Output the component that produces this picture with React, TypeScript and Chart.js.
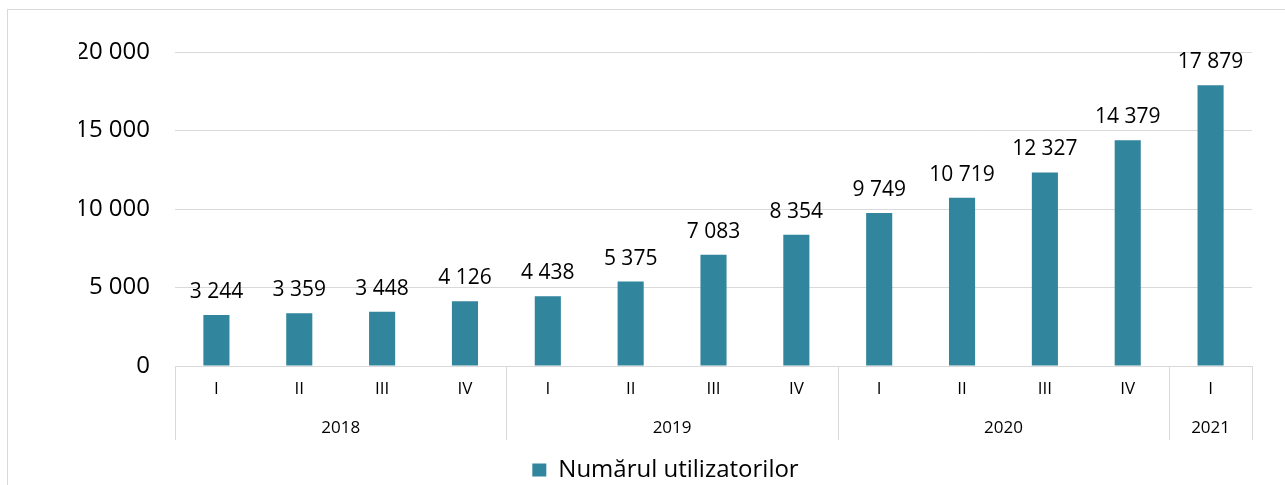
import React, { useEffect, useRef } from "react";
import { Chart, registerables } from "chart.js";

Chart.register(...registerables);

const quarters = ["I", "II", "III", "IV", "I", "II", "III", "IV", "I", "II", "III", "IV", "I"];
const years = ["2018", "2019", "2020", "2021"];
const yearSpans = [4, 4, 4, 1];
const users = [3244, 3359, 3448, 4126, 4438, 5375, 7083, 8354, 9749, 10719, 12327, 14379, 17879];
const yTicks = [0, 5000, 10000, 15000, 20000];

const seriesName = "Numărul utilizatorilor";
const barColor = "#31859C";
const gridColor = "#d9d9d9";
const FONT = "'Open Sans', 'Noto Sans', sans-serif";

const fmt = (v: number) => String(v).replace(/\B(?=(\d{3})+(?!\d))/g, " ");

const decorPlugin = {
  id: "decor",
  beforeDraw(chart: any) {
    const ctx = chart.ctx;
    ctx.save();
    ctx.strokeStyle = gridColor;
    ctx.lineWidth = 1;
    ctx.strokeRect(7.5, 9.5, 1300, 500);
    ctx.restore();
  },
  afterDatasetsDraw(chart: any) {
    const ctx = chart.ctx;
    const meta = chart.getDatasetMeta(0);
    const x = chart.scales.x;
    const area = chart.chartArea;
    ctx.save();
    // data labels
    ctx.fillStyle = "#000";
    ctx.font = `21px ${FONT}`;
    ctx.textAlign = "center";
    ctx.textBaseline = "alphabetic";
    meta.data.forEach((bar: any, i: number) => {
      ctx.fillText(fmt(users[i]), bar.x, bar.y - 17);
    });
    // group separators and year labels
    const half = (x.getPixelForValue(1) - x.getPixelForValue(0)) / 2;
    ctx.strokeStyle = gridColor;
    ctx.lineWidth = 1;
    ctx.font = `17px ${FONT}`;
    ctx.textBaseline = "middle";
    let start = 0;
    const bottom = area.bottom + 74;
    const drawSep = (px: number) => {
      const xx = Math.round(px) + 0.5;
      ctx.beginPath();
      ctx.moveTo(xx, area.bottom);
      ctx.lineTo(xx, bottom);
      ctx.stroke();
    };
    drawSep(x.getPixelForValue(0) - half);
    years.forEach((yr, gi) => {
      const end = start + yearSpans[gi] - 1;
      const left = x.getPixelForValue(start) - half;
      const right = x.getPixelForValue(end) + half;
      drawSep(right);
      ctx.fillText(yr, (left + right) / 2, area.bottom + 62);
      start = end + 1;
    });
    ctx.restore();
  },
};

export default function App() {
  const ref = useRef<HTMLCanvasElement>(null);
  useEffect(() => {
    if (!ref.current) return;
    const chart = new Chart(ref.current, {
      type: "bar",
      data: {
        labels: quarters,
        datasets: [
          {
            label: seriesName,
            data: users,
            backgroundColor: barColor,
            barPercentage: 0.315,
            categoryPercentage: 1,
          },
        ],
      },
      options: {
        animation: false,
        responsive: false,
        layout: { padding: { top: 52, right: 33, left: 79, bottom: -7 } },
        plugins: {
          legend: {
            position: "bottom",
            labels: {
              boxWidth: 14,
              boxHeight: 13,
              padding: 10,
              color: "#000",
              font: { family: FONT, size: 24 },
            },
          },
          tooltip: { enabled: false },
        },
        scales: {
          x: {
            grid: { display: false, drawTicks: false },
            border: { display: true, color: gridColor, width: 1 },
            ticks: {
              color: "#000",
              font: { family: FONT, size: 17 },
              padding: 13,
              maxRotation: 0,
              autoSkip: false,
            },
            afterFit(scale: any) {
              scale.height = 82;
            },
          },
          y: {
            min: 0,
            max: 20000,
            afterBuildTicks(scale: any) {
              scale.ticks = yTicks.map((v) => ({ value: v }));
            },
            grid: { color: gridColor, drawTicks: false },
            border: { display: false },
            ticks: {
              color: "#000",
              font: { family: FONT, size: 24 },
              padding: 25,
              callback: (v: any) => fmt(Number(v)),
            },
            afterFit(scale: any) {
              scale.width = 96;
            },
          },
        },
      },
      plugins: [decorPlugin],
    });
    return () => chart.destroy();
  }, []);
  return (
    <div style={{ position: "absolute", left: 0, top: 0, width: 1285, height: 485, background: "#fff" }}>
      <canvas ref={ref} width={1285} height={485} style={{ width: 1285, height: 485, display: "block" }} />
    </div>
  );
}
